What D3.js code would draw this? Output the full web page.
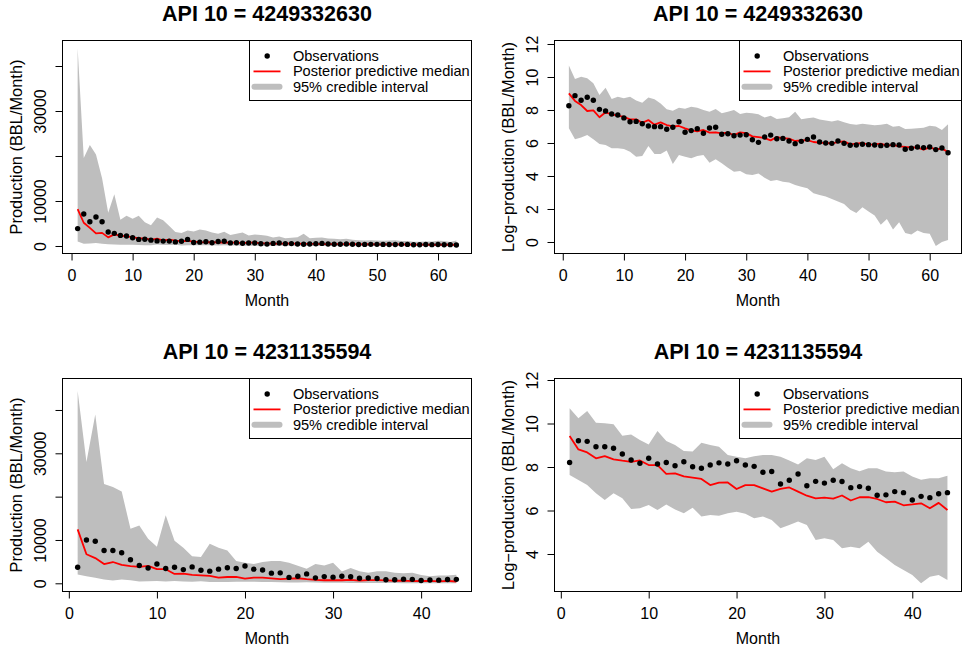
<!DOCTYPE html>
<html><head><meta charset="utf-8">
<script src="https://cdn.jsdelivr.net/npm/d3@7/dist/d3.min.js"></script>
<style>
body{margin:0;background:#fff;}
svg text{font-family:"Liberation Sans",Arial,Helvetica,sans-serif;fill:#000;}
</style></head><body>
<svg id="chart" width="969" height="648"></svg>
<script>
// ---------- DATA ----------
const well1Title = "API 10 = 4249332630";
const well2Title = "API 10 = 4231135594";
const legendLabels = ["Observations", "Posterior predictive median", "95% credible interval"];
const xLabel = "Month";
const yLabelLin = "Production (BBL/Month)";
const yLabelLog = "Log\u2212production (BBL/Month)";

const monthTicks1 = [0, 10, 20, 30, 40, 50, 60];
const monthTicks2 = [0, 10, 20, 30, 40];
const linTicks = [0, 10000, 20000, 30000, 40000];
const linTickLabels = ["0", "10000", "", "30000", ""];
const logTicks1 = [0, 2, 4, 6, 8, 10, 12];
const logTicks2 = [4, 6, 8, 10, 12];

// Well 1 (63 months), production in BBL/Month
const well1Obs = [3870, 7115, 5380, 6440, 5380, 3100, 2810, 2350, 2210, 1845,
  1465, 1495, 1300, 1130, 1086, 1086, 916, 1043, 1465, 773,
  854, 953, 728, 992, 1043, 685, 706, 626, 652, 665,
  493, 420, 578, 652, 523, 534, 455, 388, 446, 503,
  578, 428, 403, 395, 455, 395, 349, 356, 371, 365,
  356, 342, 349, 365, 356, 276, 293, 317, 305, 317,
  270, 299, 224];
const well1Median = [8185, 5166, 4024, 2808, 2922, 1920, 2591, 2299, 2122, 1959,
  1685, 1685, 1380, 1620, 1224, 1408, 1200, 1108, 1130, 973,
  871, 821, 889, 758, 773, 728, 750, 652, 765, 735,
  602, 578, 545, 473, 578, 545, 523, 455, 473, 483,
  428, 412, 403, 395, 428, 446, 371, 388, 403, 365,
  371, 388, 342, 356, 330, 317, 311, 305, 270, 311,
  276, 287, 233];
const well1Upper = [43920, 19535, 22470, 20330, 15060, 7406, 11500, 5825, 6700, 6063,
  6700, 5271, 4629, 6311, 5712, 4447, 3103, 2865, 3429, 3229,
  3641, 3429, 2981, 2697, 3166, 2441, 2697, 2981, 2346, 2540,
  2441, 2299, 1901, 2101, 1720, 1808, 1920, 2697, 1703, 1808,
  1882, 1685, 1588, 1480, 1603, 1408, 1274, 1212, 1287, 1236,
  1176, 1212, 1300, 1086, 1130, 934, 944, 973, 1012, 1153,
  1097, 889, 1249];
const well1Lower = [973, 503, 567, 652, 503, 380, 356, 293, 293, 281,
  237, 176, 183, 337, 206, 206, 255, 113, 194, 176,
  159, 183, 194, 123, 150, 118, 90, 71, 74, 60,
  58, 63, 49, 40, 43, 38, 37, 31, 28, 26,
  19, 17, 16, 13, 12, 10, 7, 6, 8, 6,
  5, 3, 4, 2, 3, 2, 2, 2, 2, 2,
  1, 1, 1];

// Well 1, log-production
const well1LogObs = [8.26, 8.87, 8.59, 8.77, 8.59, 8.04, 7.94, 7.76, 7.70, 7.52,
  7.29, 7.31, 7.17, 7.03, 6.99, 6.99, 6.83, 6.95, 7.29, 6.65,
  6.75, 6.87, 6.59, 6.91, 6.95, 6.53, 6.56, 6.44, 6.48, 6.50,
  6.20, 6.04, 6.36, 6.48, 6.26, 6.28, 6.12, 5.96, 6.10, 6.22,
  6.36, 6.06, 6.00, 5.98, 6.12, 5.98, 5.86, 5.88, 5.92, 5.90,
  5.88, 5.84, 5.86, 5.90, 5.88, 5.62, 5.68, 5.76, 5.72, 5.76,
  5.60, 5.70, 5.41];
const well1LogMedian = [9.01, 8.55, 8.30, 7.94, 7.98, 7.56, 7.86, 7.74, 7.66, 7.58,
  7.43, 7.43, 7.23, 7.39, 7.11, 7.25, 7.09, 7.01, 7.03, 6.89,
  6.77, 6.71, 6.79, 6.63, 6.65, 6.59, 6.62, 6.48, 6.64, 6.60,
  6.40, 6.36, 6.30, 6.16, 6.36, 6.30, 6.26, 6.12, 6.16, 6.18,
  6.06, 6.02, 6.00, 5.98, 6.06, 6.10, 5.92, 5.96, 6.00, 5.90,
  5.92, 5.96, 5.84, 5.88, 5.80, 5.76, 5.74, 5.72, 5.60, 5.74,
  5.62, 5.66, 5.45];
const well1LogUpper = [10.69, 9.88, 10.02, 9.92, 9.62, 8.91, 9.35, 8.67, 8.81, 8.71,
  8.81, 8.57, 8.44, 8.75, 8.65, 8.40, 8.04, 7.96, 8.14, 8.08,
  8.20, 8.14, 8.00, 7.90, 8.06, 7.80, 7.90, 8.00, 7.76, 7.84,
  7.80, 7.74, 7.55, 7.65, 7.45, 7.50, 7.56, 7.90, 7.44, 7.50,
  7.54, 7.43, 7.37, 7.30, 7.38, 7.25, 7.15, 7.10, 7.16, 7.12,
  7.07, 7.10, 7.17, 6.99, 7.03, 6.85, 6.86, 6.89, 6.93, 7.05,
  7.00, 6.79, 7.13];
const well1LogLower = [6.89, 6.22, 6.34, 6.48, 6.22, 5.94, 5.88, 5.68, 5.68, 5.64,
  5.47, 5.17, 5.21, 5.82, 5.33, 5.33, 5.54, 4.73, 5.27, 5.17,
  5.07, 5.21, 5.27, 4.81, 5.01, 4.77, 4.50, 4.26, 4.30, 4.10,
  4.06, 4.15, 3.90, 3.70, 3.75, 3.65, 3.60, 3.45, 3.35, 3.25,
  2.95, 2.85, 2.75, 2.60, 2.45, 2.30, 1.95, 1.75, 2.10, 1.85,
  1.60, 1.05, 1.40, 0.75, 1.20, 0.55, 0.45, 0.70, 0.55, 0.50,
  -0.24, 0.00, 0.12];

// Well 2 (44 months), production in BBL/Month
const well2Obs = [3714, 9999, 9700, 7555, 7555, 7044, 5431, 4105, 3532, 4447,
  3429, 3714, 3166, 3789, 3011, 2808, 3261, 3604, 3429, 3983,
  3261, 3071, 2346, 2417, 1366, 1620, 2165, 1261, 1541, 1422,
  1620, 1525, 1153, 1212, 1119, 812, 829, 953, 916, 652,
  773, 728, 871, 916];
const well2Median = [12454, 6701, 5825, 4447, 4915, 4230, 3983, 3789, 4024, 3261,
  3261, 2165, 2231, 1939, 1826, 1720, 1300, 1451, 1465, 1086,
  1300, 1300, 1119, 953, 1086, 1165, 953, 796, 706, 728,
  699, 804, 639, 742, 742, 685, 590, 608, 513, 534,
  561, 446, 572, 412];
const well2Upper = [44356, 27995, 38942, 22925, 22247, 21165, 12584, 13359, 10299, 8434,
  15679, 9797, 8184, 6248, 6063, 9136, 8184, 7555, 5166, 4770,
  4447, 4915, 5166, 5166, 4770, 4024, 3361, 4447, 4105, 4770,
  2697, 3532, 2808, 2441, 2808, 2808, 2417, 2346, 2417, 1920,
  1652, 1772, 1772, 1998];
const well2Lower = [2059, 1636, 1300, 889, 652, 889, 706, 433, 446, 518,
  412, 534, 424, 352, 459, 305, 327, 317, 352, 380,
  346, 281, 305, 260, 178, 206, 242, 206, 104, 112,
  104, 71, 76, 71, 96, 60, 45, 33, 26, 21,
  14, 19, 21, 16];

// Well 2, log-production
const well2LogObs = [8.21, 9.21, 9.18, 8.93, 8.93, 8.86, 8.60, 8.32, 8.17, 8.40,
  8.14, 8.21, 8.06, 8.24, 8.01, 7.94, 8.09, 8.19, 8.14, 8.29,
  8.09, 8.03, 7.76, 7.79, 7.22, 7.39, 7.68, 7.14, 7.34, 7.26,
  7.39, 7.33, 7.05, 7.10, 7.02, 6.70, 6.72, 6.87, 6.82, 6.48,
  6.65, 6.59, 6.77, 6.82];
const well2LogMedian = [9.43, 8.81, 8.67, 8.40, 8.50, 8.35, 8.29, 8.24, 8.30, 8.09,
  8.09, 7.68, 7.71, 7.57, 7.51, 7.45, 7.17, 7.28, 7.29, 6.99,
  7.17, 7.17, 7.02, 6.87, 6.99, 7.06, 6.87, 6.68, 6.56, 6.59,
  6.55, 6.69, 6.46, 6.61, 6.61, 6.53, 6.38, 6.41, 6.24, 6.28,
  6.33, 6.10, 6.35, 6.02];
const well2LogUpper = [10.70, 10.24, 10.57, 10.04, 10.01, 9.96, 9.44, 9.50, 9.24, 9.04,
  9.66, 9.19, 9.01, 8.74, 8.71, 9.12, 9.01, 8.93, 8.55, 8.47,
  8.40, 8.50, 8.55, 8.55, 8.47, 8.30, 8.12, 8.40, 8.32, 8.47,
  7.90, 8.17, 7.94, 7.80, 7.94, 7.94, 7.79, 7.76, 7.79, 7.56,
  7.41, 7.48, 7.48, 7.60];
const well2LogLower = [7.63, 7.40, 7.17, 6.79, 6.48, 6.79, 6.56, 6.07, 6.10, 6.25,
  6.02, 6.28, 6.05, 5.87, 6.13, 5.72, 5.79, 5.76, 5.87, 5.94,
  5.85, 5.64, 5.72, 5.56, 5.18, 5.33, 5.49, 5.33, 4.64, 4.72,
  4.64, 4.26, 4.33, 4.26, 4.56, 4.10, 3.80, 3.49, 3.26, 3.03,
  2.65, 2.95, 3.03, 2.80];

// ---------- DRAWING ----------
const svg = d3.select("#chart");
svg.append("rect").attr("width", 969).attr("height", 648).attr("fill", "#fff");

const BAND = "#BEBEBE";
const RED = "#FF0000";

function drawPanel(cfg) {
  const g = svg.append("g");
  const b = cfg.box;
  const x = d3.scaleLinear().domain(cfg.xDomain).range([b.x0, b.x1]);
  const y = d3.scaleLinear().domain(cfg.yDomain).range([b.y1, b.y0]);
  const rows = cfg.obs.map((o, i) => ({ m: i + 1, obs: o, med: cfg.med[i], lo: cfg.lo[i], hi: cfg.hi[i] }));

  g.append("path").datum(rows)
    .attr("d", d3.area().x(d => x(d.m)).y0(d => y(d.lo)).y1(d => y(d.hi)))
    .attr("fill", BAND).attr("stroke", "none");
  g.append("path").datum(rows)
    .attr("d", d3.line().x(d => x(d.m)).y(d => y(d.med)))
    .attr("fill", "none").attr("stroke", RED).attr("stroke-width", 1.8).attr("stroke-linejoin", "round");
  g.selectAll("circle.obs").data(rows).join("circle").attr("class", "obs")
    .attr("cx", d => x(d.m)).attr("cy", d => y(d.obs)).attr("r", 2.7).attr("fill", "#000");

  // box
  g.append("rect").attr("x", b.x0).attr("y", b.y0).attr("width", b.x1 - b.x0).attr("height", b.y1 - b.y0)
    .attr("fill", "none").attr("stroke", "#000").attr("stroke-width", 1);

  // x axis
  const xa = g.append("g").attr("transform", `translate(0,${b.y1})`)
    .call(d3.axisBottom(x).tickValues(cfg.xTicks).tickSize(7).tickSizeOuter(0).tickFormat(d3.format("d")));
  xa.select(".domain").remove();
  xa.selectAll(".tick line").attr("stroke", "#000");
  xa.selectAll(".tick text").attr("y", 27.4).attr("dy", null)
    .style("font-size", "16px").style("font-family", '"Liberation Sans", Arial, sans-serif');
  g.append("line").attr("x1", x(cfg.xTicks[0])).attr("x2", x(cfg.xTicks[cfg.xTicks.length - 1]))
    .attr("y1", b.y1).attr("y2", b.y1).attr("stroke", "#000");

  // y axis
  const ya = g.append("g").attr("transform", `translate(${b.x0},0)`)
    .call(d3.axisLeft(y).tickValues(cfg.yTicks).tickSize(7).tickSizeOuter(0)
      .tickFormat((d, i) => cfg.yTickLabels[i]));
  ya.select(".domain").remove();
  ya.selectAll(".tick line").attr("stroke", "#000");
  ya.selectAll(".tick text").attr("transform", "rotate(-90)").attr("x", 0).attr("y", -16.7)
    .attr("dy", null).attr("text-anchor", "middle")
    .style("font-size", "16px").style("font-family", '"Liberation Sans", Arial, sans-serif');
  g.append("line").attr("x1", b.x0).attr("x2", b.x0)
    .attr("y1", y(cfg.yTicks[0])).attr("y2", y(cfg.yTicks[cfg.yTicks.length - 1])).attr("stroke", "#000");

  // titles
  g.append("text").attr("x", (b.x0 + b.x1) / 2).attr("y", b.y0 - 19.5).attr("text-anchor", "middle")
    .style("font-size", "21.5px").style("font-weight", "bold").text(cfg.title);
  g.append("text").attr("x", (b.x0 + b.x1) / 2).attr("y", b.y1 + 52.7).attr("text-anchor", "middle")
    .style("font-size", "16px").text(xLabel);
  g.append("text").attr("transform", `translate(${b.x0 - 41},${(b.y0 + b.y1) / 2}) rotate(-90)`)
    .attr("text-anchor", "middle").style("font-size", "16.4px").text(cfg.yLabel);

  // legend
  const lw = 222, lh = 60;
  const lx = b.x1 - lw, ly = b.y0;
  const lg = g.append("g");
  lg.append("rect").attr("x", lx).attr("y", ly).attr("width", lw).attr("height", lh)
    .attr("fill", "#fff").attr("stroke", "#000").attr("stroke-width", 1);
  const base = [20.5, 35.9, 51.3];
  lg.append("circle").attr("cx", lx + 17.7).attr("cy", ly + base[0] - 5).attr("r", 2.7).attr("fill", "#000");
  lg.append("line").attr("x1", lx + 4).attr("x2", lx + 31).attr("y1", ly + base[1] - 5).attr("y2", ly + base[1] - 5)
    .attr("stroke", RED).attr("stroke-width", 1.8);
  lg.append("line").attr("x1", lx + 5).attr("x2", lx + 30).attr("y1", ly + base[2] - 5).attr("y2", ly + base[2] - 5)
    .attr("stroke", BAND).attr("stroke-width", 6).attr("stroke-linecap", "round");
  legendLabels.forEach((t, i) => {
    lg.append("text").attr("x", lx + 43.4).attr("y", ly + base[i]).style("font-size", "14.6px").text(t);
  });
}

drawPanel({
  title: well1Title, yLabel: yLabelLin,
  box: { x0: 62.5, x1: 471.5, y0: 40.5, y1: 253.5 },
  xDomain: [-1.48, 65.48], yDomain: [-1667, 45667],
  xTicks: monthTicks1, yTicks: linTicks, yTickLabels: linTickLabels,
  obs: well1Obs, med: well1Median, lo: well1Lower, hi: well1Upper
});
drawPanel({
  title: well1Title, yLabel: yLabelLog,
  box: { x0: 554.5, x1: 961.5, y0: 40.5, y1: 253.5 },
  xDomain: [-1.35, 65.2], yDomain: [-0.697, 12.212],
  xTicks: monthTicks1, yTicks: logTicks1, yTickLabels: logTicks1.map(String),
  obs: well1LogObs, med: well1LogMedian, lo: well1LogLower, hi: well1LogUpper
});
drawPanel({
  title: well2Title, yLabel: yLabelLin,
  box: { x0: 62.5, x1: 471.5, y0: 378.5, y1: 591.5 },
  xDomain: [-0.72, 45.72], yDomain: [-1892, 47265],
  xTicks: monthTicks2, yTicks: linTicks, yTickLabels: linTickLabels,
  obs: well2Obs, med: well2Median, lo: well2Lower, hi: well2Upper
});
drawPanel({
  title: well2Title, yLabel: yLabelLog,
  box: { x0: 554.5, x1: 961.5, y0: 378.5, y1: 591.5 },
  xDomain: [-0.72, 45.6], yDomain: [2.276, 12.069],
  xTicks: monthTicks2, yTicks: logTicks2, yTickLabels: logTicks2.map(String),
  obs: well2LogObs, med: well2LogMedian, lo: well2LogLower, hi: well2LogUpper
});
</script>
</body></html>
